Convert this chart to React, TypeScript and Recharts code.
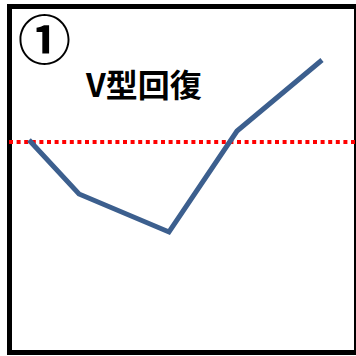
import { LineChart, Line, XAxis, YAxis, ReferenceLine } from 'recharts';

// positions along the period (arbitrary units, left to right)
const periods = [29, 79, 169, 237, 322];
// level of the indicator at each period (higher = better)
const levels = [216, 162, 124, 225, 296];
// pre-shock level drawn as the red dotted line
const baseline = 214;
const baselineSpan = [9, 356];

const data = periods.map((p, i) => ({ t: p, v: levels[i] }));

export default function App() {
  return (
    <div style={{ position: 'relative', width: 356, height: 356, overflow: 'hidden', background: '#fff' }}>
      <style>{'body{margin:0;overflow:hidden}'}</style>
      <div
        style={{
          position: 'absolute',
          left: 7,
          top: 4,
          width: 352,
          height: 351,
          border: '5px solid #000',
          boxSizing: 'border-box',
        }}
      />
      <div
        style={{
          position: 'absolute',
          left: 18,
          top: 9,
          fontFamily: '"Noto Sans CJK JP"',
          fontWeight: 700,
          fontSize: 53,
          lineHeight: '56px',
          color: '#000',
        }}
      >
        ①
      </div>
      <div
        style={{
          position: 'absolute',
          left: 86,
          top: 65,
          fontFamily: '"Noto Sans CJK JP"',
          fontWeight: 700,
          fontSize: 32,
          lineHeight: '36px',
          color: '#000',
        }}
      >
        V型回復
      </div>
      <div style={{ position: 'absolute', left: 0, top: 0 }}>
        <LineChart width={356} height={356} data={data} margin={{ top: 0, right: 0, bottom: 0, left: 0 }}>
          <XAxis type="number" dataKey="t" domain={[0, 356]} hide />
          <YAxis type="number" domain={[0, 356]} hide />
          <ReferenceLine
            segment={[
              { x: baselineSpan[0], y: baseline },
              { x: baselineSpan[1], y: baseline },
            ]}
            stroke="#ff0000"
            strokeWidth={4}
            strokeDasharray="4 3.6"
          />
          <Line
            type="linear"
            dataKey="v"
            stroke="#3c5f8e"
            strokeWidth={5}
            strokeLinecap="butt"
            dot={false}
            activeDot={false}
            isAnimationActive={false}
          />
        </LineChart>
      </div>
    </div>
  );
}
